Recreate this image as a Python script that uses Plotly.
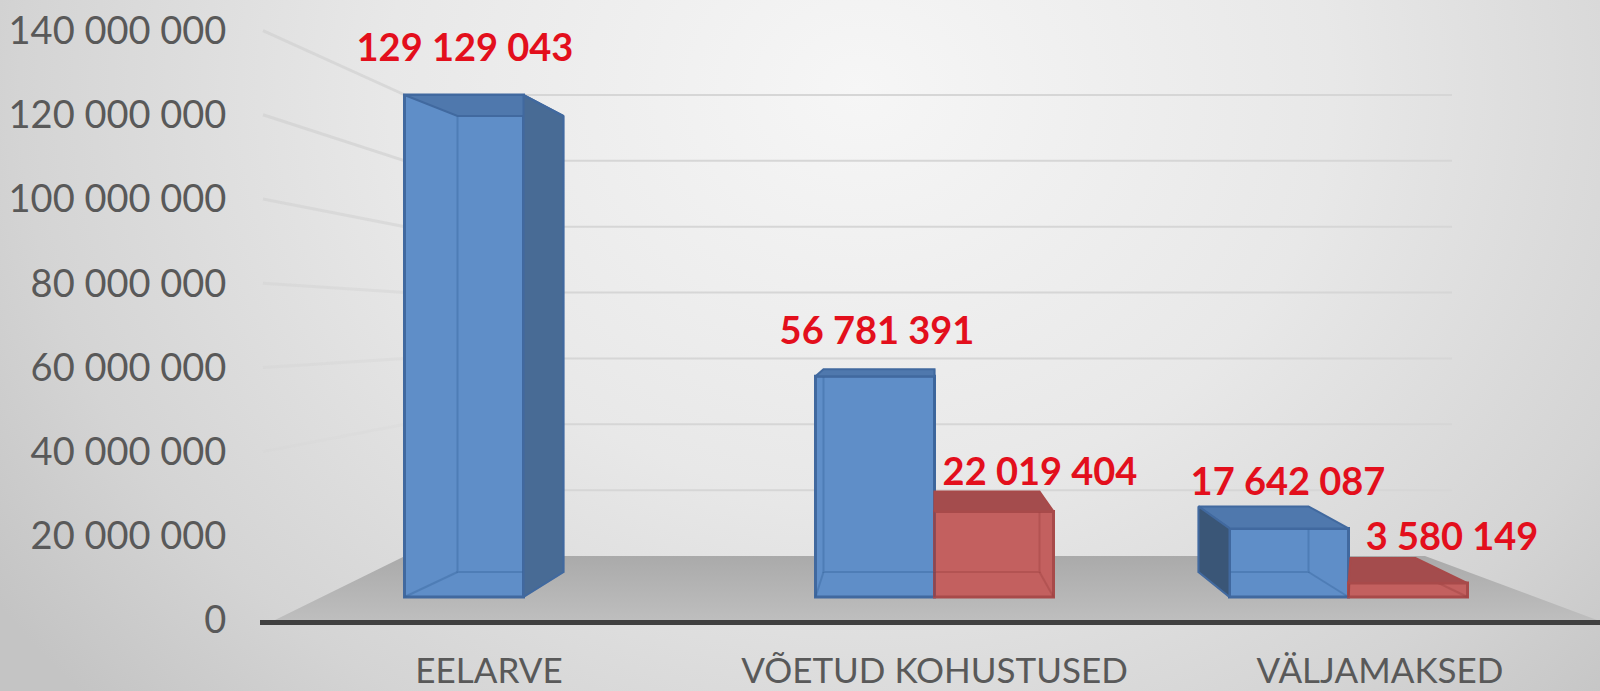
import base64
import plotly.graph_objects as go

categories = ["EELARVE", "VÕETUD KOHUSTUSED", "VÄLJAMAKSED"]
blue_values = [129129043, 56781391, 17642087]
red_values = [None, 22019404, 3580149]
tick_values = [0, 20000000, 40000000, 60000000, 80000000, 100000000, 120000000, 140000000]
tick_labels = ["0", "20 000 000", "40 000 000", "60 000 000", "80 000 000", "100 000 000", "120 000 000", "140 000 000"]

W, H = 1600, 691
L, BOT = 260, 620
CAT0, CATSTEP = 489, 445.5
K1 = (620 - 30.6) / 140e6
K2 = (597 - 95) / 129129043
BAR_PX = 119
GROUP_SHIFT = [34.5, 0, -31.5]
# depth geometry of each bar: back-left dx, back-right dx, back-top dy (px)
BLUE_DEPTH = [(53, 40, -21), (8, 0, 7), (-31, -40, 22)]
RED_DEPTH = [None, (0, -14, 20), (2, -52, 25)]
LABEL_OFF_BLUE = [(1, 44), (2, 42), (-1, 43)]
LABEL_OFF_RED = [None, (46, 36), (44, 43)]
BACK_BOTTOM_PX = 25
BLUE = dict(front="#5f8ec8", edge="#41699f", top="#4f78ad", side="#486b95", dark="#3a5677", inner="rgba(50,95,150,0.35)")
RED = dict(front="#c3605f", edge="#a84a4a", top="#a44c4d", side="#a44c4d", dark="#8c3c3c", inner="rgba(150,60,60,0.35)")

def cx(px):
    return (px - CAT0) / CATSTEP

svg = f'''<svg xmlns="http://www.w3.org/2000/svg" width="{W}" height="{H}">
<defs><radialGradient id="g" gradientUnits="userSpaceOnUse" cx="0" cy="0" r="1"
gradientTransform="translate(860 90) scale(1050 900)">
<stop offset="0" stop-color="#f6f6f6"/><stop offset="0.45" stop-color="#e8e8e8"/>
<stop offset="0.8" stop-color="#d4d4d4"/><stop offset="1" stop-color="#c4c4c4"/></radialGradient></defs>
<rect width="{W}" height="{H}" fill="url(#g)"/></svg>'''
bg = "data:image/svg+xml;base64," + base64.b64encode(svg.encode()).decode()

fig = go.Figure()

# floor
fig.add_trace(go.Scatter(
    x=[cx(275), cx(405), cx(1425), cx(1597), cx(275)],
    y=[0, (620 - 556) / K1, (620 - 556) / K1, 0, 0],
    mode="lines", line=dict(width=0), fill="toself",
    fillgradient=dict(type="vertical", colorscale=[[0, "#bebebe"], [1, "#aaaaaa"]]),
    hoverinfo="skip", showlegend=False, yaxis="y"))

# back wall grid and left wall grid
wall_alpha = {20000000: 0.0, 40000000: 0.15, 60000000: 0.3, 80000000: 0.4, 100000000: 0.55, 120000000: 0.65, 140000000: 0.65}
for t in tick_values[1:]:
    back_px = 556 - t * 461 / 140e6
    back_val = (620 - back_px) / K1
    fig.add_trace(go.Scatter(x=[cx(405), cx(1452)], y=[back_val, back_val], mode="lines",
                             line=dict(color="#d6d6d6", width=2), hoverinfo="skip", showlegend=False))
    fig.add_trace(go.Scatter(x=[cx(263), cx(405)], y=[t, back_val], mode="lines",
                             line=dict(color=f"rgba(208,208,208,{wall_alpha[t]})", width=3),
                             hoverinfo="skip", showlegend=False))

def add_series(values, depth, pal, dodge):
    xs, ys = [], []
    for i, v in enumerate(values):
        if v is None:
            continue
        left = CAT0 + i * CATSTEP + GROUP_SHIFT[i] + (-BAR_PX if dodge < 0 else 0)
        right = left + BAR_PX
        xs.append(cx((left + right) / 2))
        ys.append(v)
    fig.add_trace(go.Bar(x=xs, y=ys, width=BAR_PX / CATSTEP, yaxis="y2",
                         marker=dict(color=pal["front"], line=dict(color=pal["edge"], width=3)),
                         hoverinfo="skip", showlegend=False))
    for i, v in enumerate(values):
        if v is None:
            continue
        left = CAT0 + i * CATSTEP + GROUP_SHIFT[i] + (-BAR_PX if dodge < 0 else 0)
        right = left + BAR_PX
        dl, dr, dy = depth[i]
        bl, br = left + dl, right + dr
        top_b = v + dy / K2
        bot_b = BACK_BOTTOM_PX / K2
        def face(px, val, color, line=True):
            fig.add_trace(go.Scatter(x=[cx(p) for p in px] + [cx(px[0])], y=val + [val[0]], yaxis="y2",
                                     mode="lines", fill="toself", fillcolor=color,
                                     line=dict(color=pal["edge"], width=2), hoverinfo="skip", showlegend=False))
        # inner edges seen through the translucent front
        fig.add_trace(go.Scatter(
            x=[cx(bl), cx(bl), cx(br), cx(br), None, cx(left), cx(bl), None, cx(right), cx(br)],
            y=[top_b, bot_b, bot_b, top_b, None, 0, bot_b, None, 0, bot_b], yaxis="y2",
            mode="lines", line=dict(color=pal["inner"], width=2), hoverinfo="skip", showlegend=False))
        face([left, right, br, bl], [v, v, top_b, top_b], pal["top"])
        if br > right:
            face([right, br, br, right], [v, top_b, bot_b, 0], pal["side"])
        if bl < left:
            face([left, bl, bl, left], [v, top_b, bot_b, 0], pal["dark"])

add_series(blue_values, BLUE_DEPTH, BLUE, -1)
add_series(red_values, RED_DEPTH, RED, 1)

# value labels
lx, ly, lt = [], [], []
for i, v in enumerate(blue_values):
    px = CAT0 + i * CATSTEP + GROUP_SHIFT[i] - BAR_PX / 2 + LABEL_OFF_BLUE[i][0]
    lx.append(cx(px)); ly.append(v + LABEL_OFF_BLUE[i][1] / K2)
    lt.append(f"{v:,}".replace(",", " "))
for i, v in enumerate(red_values):
    if v is None:
        continue
    px = CAT0 + i * CATSTEP + GROUP_SHIFT[i] + BAR_PX / 2 + LABEL_OFF_RED[i][0]
    lx.append(cx(px)); ly.append(v + LABEL_OFF_RED[i][1] / K2)
    lt.append(f"{v:,}".replace(",", " "))
fig.add_trace(go.Scatter(x=lx, y=ly, text=lt, mode="text", yaxis="y2", textposition="middle center",
                         textfont=dict(family="Lato", size=38, color="#e30f1c", weight="bold"),
                         hoverinfo="skip", showlegend=False, cliponaxis=False))

fig.update_layout(
    width=W, height=H, autosize=False,
    margin=dict(l=L, r=0, t=0, b=H - BOT, pad=0),
    paper_bgcolor="rgba(0,0,0,0)", plot_bgcolor="rgba(0,0,0,0)",
    showlegend=False, barmode="overlay",
    images=[dict(source=bg, xref="paper", yref="paper", x=-L / (W - L), y=1,
                 sizex=W / (W - L), sizey=H / BOT, xanchor="left", yanchor="top", sizing="stretch", layer="below")],
    xaxis=dict(range=[cx(L), cx(W)], tickmode="array", tickvals=[0, 1, 2], ticktext=categories,
               showgrid=False, zeroline=False, showline=True, linecolor="#404040", linewidth=5,
               ticks="outside", ticklen=16, tickcolor="rgba(0,0,0,0)", automargin=False,
               tickfont=dict(family="Lato", size=35, color="#595959")),
    yaxis=dict(range=[0, BOT / K1], tickmode="array", tickvals=tick_values, ticktext=tick_labels,
               showgrid=False, zeroline=False, showline=False, automargin=False,
               ticks="outside", ticklen=25, tickcolor="rgba(0,0,0,0)",
               tickfont=dict(family="Lato", size=38, color="#595959")),
    yaxis2=dict(range=[-23 / K2, 597 / K2], overlaying="y", visible=False),
)
fig.write_html("out.html", config={"displayModeBar": False},
               post_script="document.body.style.margin='0';document.body.style.overflow='hidden';")
